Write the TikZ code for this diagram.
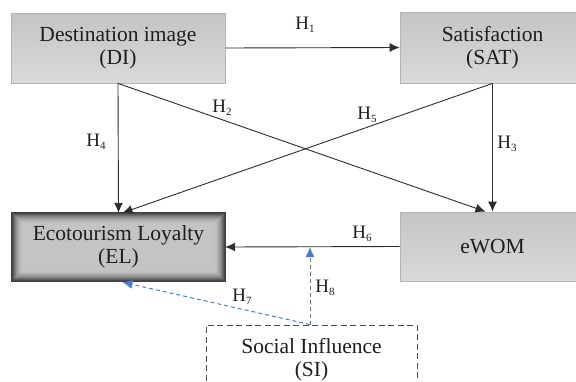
\documentclass[tikz,border=0pt]{standalone}
\usepackage{fontspec}
\setmainfont{Liberation Serif}
\usetikzlibrary{arrows.meta,calc}
\definecolor{boxtop}{RGB}{196,196,196}
\definecolor{boxbot}{RGB}{218,218,218}
\definecolor{boxline}{RGB}{180,180,180}
\definecolor{txt}{RGB}{30,30,30}
\definecolor{lnk}{RGB}{45,45,45}
\definecolor{blu}{RGB}{74,124,210}
\newcommand{\hyp}[1]{H\raisebox{-0.35ex}{\fontsize{11}{11}\selectfont #1}}
\begin{document}
\begin{tikzpicture}[x=1pt,y=-1pt,
  cbox/.style={rectangle, draw=boxline, line width=0.8pt, top color=boxtop, bottom color=boxbot,
    minimum height=70pt, font=\fontsize{21.5}{23}\selectfont, text=txt, align=center, inner sep=0pt},
  elframe/.style={rectangle, minimum width=213pt, minimum height=68pt, inner sep=0pt},
  eltext/.style={font=\fontsize{21.5}{23}\selectfont, text=txt, align=center, inner sep=0pt},
  sibox/.style={rectangle, draw=black!70, line width=0.9pt, dash pattern=on 6pt off 3.5pt,
    minimum width=211pt, minimum height=70pt, font=\fontsize{21.5}{23}\selectfont, text=txt, align=center, inner sep=0pt},
  arr/.style={draw=lnk, line width=0.9pt, -{Latex[length=10pt,width=9pt]}},
  barr/.style={draw=blu, line width=1pt, dash pattern=on 4pt off 3pt, -{Latex[length=10pt,width=9pt]}},
  hlab/.style={font=\fontsize{19}{19}\selectfont, text=txt, inner sep=0pt}]
\useasboundingbox (0,0) rectangle (576,381);
\clip (0,0) rectangle (576,381);
\fill[white] (0,0) rectangle (576,381);

\node[cbox, minimum width=214pt] (DI) at (118,48) {Destination image\\(DI)};
\node[cbox, minimum width=185pt, minimum height=71pt] (SAT) at (492.5,47.5) {Satisfaction\\(SAT)};
\node[cbox, minimum width=185pt, minimum height=69pt] (eWOM) at (492.5,246.5) {eWOM};

\node[elframe] (EL) at (118.5,247) {};
\foreach \i/\c in {0/72,1/64,2/56,3/49,4/43,5/38,6/34,7/30,8/27,9/25,10/23}{
  \fill[black!\c] ($(EL.north west)+(\i,\i)$) rectangle ($(EL.south east)+(-\i,-\i)$);
}
\draw[black!75, line width=0.8pt] (EL.north west) rectangle (EL.south east);
\node[eltext] (ELt) at (EL.center) {Ecotourism Loyalty\\(EL)};

\node[sibox] (SI) at (311.5,360) {Social Influence\\(SI)};

\draw[arr] (DI.east) -- (SAT.west);
\draw[arr] (DI.south) -- (EL.north);
\draw[arr] (DI.south) -- ($(eWOM.north)+(-7,0)$);
\draw[arr] (SAT.south) -- (eWOM.north);
\draw[arr] (SAT.south) -- ($(EL.north)+(4,0)$);
\draw[arr] (eWOM.west) -- (EL.east);
\coordinate (SItop) at ($(SI.north)+(-1.5,0)$);
\draw[barr] (SItop) -- (SItop |- EL.east);
\draw[barr] (SItop) -- ($(EL.south)+(4,1)$);

\node[hlab] (h1) at (305,25) {\hyp{1}};
\node[hlab] (h2) at (222,108) {\hyp{2}};
\node[hlab] (h3) at (507,144) {\hyp{3}};
\node[hlab] (h4) at (96,142) {\hyp{4}};
\node[hlab] (h5) at (367,115) {\hyp{5}};
\node[hlab] (h6) at (362,234) {\hyp{6}};
\node[hlab] (h7) at (242,297) {\hyp{7}};
\node[hlab] (h8) at (325,288) {\hyp{8}};
\end{tikzpicture}
\end{document}
